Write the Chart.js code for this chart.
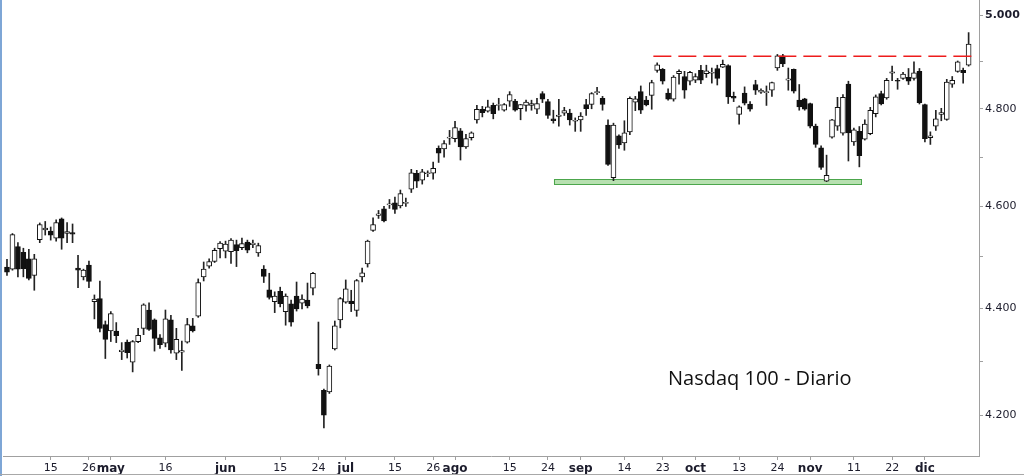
<!DOCTYPE html>
<html>
<head>
<meta charset="utf-8">
<script src="https://cdn.jsdelivr.net/npm/chart.js@4.4.0/dist/chart.umd.min.js"></script>
<style>
  html, body { margin: 0; padding: 0; background: #fff; }
  canvas { display: block; }
</style>
</head>
<body>
<canvas id="myChart" width="1024" height="476"></canvas>
<script>
// Nasdaq 100 daily candles, 5 abr - 13 dic (one entry per session)
const opens = [
  4480,4476,4520,4509,4496,4464,4534,4553,4551,4537,
  4575,4546,4548,4478,4461,4484,4413,4419,4369,4357,
  4357,4318,4336,4298,4337,4362,4397,4378,4344,4334,
  4378,4315,4317,4336,4367,4385,4461,4482,4491,4516,
  4511,4510,4524,4518,4529,4524,4508,4476,4436,4413,
  4433,4394,4409,4424,4410,4416,4439,4294,4246,4243,
  4323,4378,4412,4414,4396,4461,4486,4552,4582,4595,
  4603,4607,4601,4606,4635,4667,4653,4666,4667,4718,
  4717,4739,4738,4754,4721,4740,4777,4799,4795,4807,
  4807,4797,4816,4816,4800,4807,4807,4799,4832,4815,
  4779,4784,4791,4791,4774,4777,4809,4809,4834,4822,
  4766,4658,4744,4729,4752,4814,4836,4818,4828,4881,
  4883,4833,4820,4874,4868,4858,4860,4881,4874,4875,
  4885,4888,4891,4826,4788,4833,4810,4851,4835,4834,
  4839,4886,4912,4860,4883,4818,4821,4811,4764,4719,
  4651,4741,4764,4749,4852,4731,4753,4737,4748,4790,
  4832,4823,4875,4860,4864,4866,4864,4879,4809,4740,
  4764,4788,4778,4852,4879,4881,4892
]
const highs = [
  4495,4546,4528,4517,4515,4505,4567,4570,4559,4573,
  4577,4568,4565,4503,4476,4492,4426,4453,4376,4394,
  4373,4335,4340,4339,4362,4409,4411,4380,4350,4397,
  4387,4362,4338,4381,4381,4457,4490,4496,4517,4530,
  4531,4536,4533,4537,4533,4533,4527,4483,4468,4432,
  4441,4428,4416,4451,4426,4449,4470,4374,4248,4293,
  4376,4421,4455,4435,4456,4478,4533,4577,4592,4600,
  4614,4619,4633,4617,4675,4673,4675,4672,4690,4723,
  4734,4755,4774,4759,4747,4752,4807,4805,4818,4812,
  4822,4811,4836,4820,4809,4818,4818,4822,4836,4820,
  4797,4820,4803,4799,4781,4792,4820,4834,4845,4826,
  4777,4770,4746,4775,4825,4826,4848,4826,4860,4897,
  4885,4842,4870,4882,4879,4879,4874,4892,4892,4886,
  4892,4903,4893,4835,4806,4846,4815,4860,4842,4848,
  4856,4915,4915,4886,4884,4851,4822,4812,4768,4723,
  4704,4778,4824,4830,4858,4760,4763,4777,4803,4829,
  4837,4864,4890,4864,4877,4885,4899,4885,4810,4752,
  4797,4801,4862,4868,4901,4886,4962
]
const lows = [
  4464,4474,4461,4461,4455,4435,4528,4543,4533,4531,
  4515,4528,4528,4440,4455,4440,4380,4355,4305,4337,
  4335,4303,4306,4280,4335,4350,4358,4319,4324,4327,
  4315,4303,4283,4334,4355,4383,4453,4478,4489,4498,
  4498,4487,4481,4514,4508,4518,4501,4450,4418,4392,
  4403,4368,4366,4395,4399,4401,4426,4274,4177,4240,
  4321,4363,4410,4394,4385,4451,4480,4550,4576,4569,
  4596,4586,4597,4600,4628,4638,4645,4660,4655,4689,
  4700,4726,4731,4694,4718,4735,4770,4783,4793,4779,
  4797,4795,4805,4795,4777,4795,4797,4790,4813,4780,
  4770,4764,4786,4766,4753,4753,4786,4800,4830,4797,
  4683,4652,4718,4714,4746,4796,4790,4806,4799,4877,
  4852,4818,4816,4852,4822,4850,4855,4853,4866,4854,
  4850,4887,4811,4815,4768,4808,4795,4830,4832,4807,
  4826,4881,4889,4839,4833,4797,4797,4760,4720,4675,
  4650,4739,4755,4745,4692,4724,4680,4735,4746,4783,
  4808,4820,4859,4841,4862,4851,4860,4810,4731,4726,
  4755,4775,4776,4845,4877,4854,4890
]
const closes = [
  4470,4544,4476,4477,4458,4496,4564,4557,4543,4568,
  4537,4550,4545,4474,4474,4452,4418,4362,4341,4390,
  4348,4321,4316,4337,4349,4407,4360,4343,4331,4380,
  4321,4341,4320,4369,4357,4450,4476,4491,4513,4527,
  4525,4533,4512,4526,4513,4527,4522,4462,4421,4424,
  4409,4424,4374,4399,4418,4405,4468,4286,4200,4291,
  4367,4419,4438,4409,4454,4469,4531,4564,4585,4571,
  4605,4594,4626,4608,4668,4651,4670,4668,4677,4708,
  4728,4741,4761,4721,4738,4750,4799,4792,4804,4790,
  4809,4809,4830,4797,4809,4814,4811,4811,4820,4786,
  4775,4787,4796,4777,4776,4785,4800,4832,4836,4809,
  4685,4766,4725,4750,4822,4821,4797,4808,4855,4893,
  4858,4820,4867,4879,4839,4877,4868,4860,4880,4877,
  4864,4894,4825,4822,4804,4812,4799,4839,4839,4836,
  4855,4912,4895,4863,4837,4804,4799,4764,4726,4679,
  4663,4777,4803,4824,4750,4756,4703,4768,4797,4825,
  4810,4860,4878,4858,4873,4858,4876,4813,4738,4744,
  4779,4792,4856,4860,4899,4876,4937
]

// x axis labels (session index -> text)
const tickPos = [8, 15, 19, 29, 40, 50, 57, 62, 71, 78, 82, 92, 99, 105, 113, 120, 126, 134, 141, 147, 155, 162, 168]
const tickText = ['15','26','may','16','jun','15','24','jul','15','26','ago','15','24','sep','14','23','oct','13','24','nov','11','22','dic']
const months = ['may','jun','jul','ago','sep','oct','nov','dic']

// price axis
const yTicks = [4200, 4300, 4400, 4500, 4600, 4700, 4800, 4900, 5000]

// resistance (dashed red) and support zone (green)
const resistance = [4911, 4911]
const resistanceX = [118.3, 177.7]
const supportZone = [4645, 4655]
const supportX = [100.1, 156.3]

const bodies = opens.map((o, i) => ({ x: i, y: [o, closes[i]] }))
const wicks = lows.map((l, i) => ({ x: i, y: [l, highs[i]] }))
const bodyColors = opens.map((o, i) => closes[i] >= o ? '#ffffff' : '#111111')

const fmt = v => String(v).replace(/\B(?=(\d{3})+$)/, '.')

const overlay = {
  id: 'overlay',
  beforeDatasetsDraw(chart) {
    const { ctx, scales: { x, y } } = chart
    const x1 = x.getPixelForValue(supportX[0])
    const x2 = x.getPixelForValue(supportX[1])
    const y1 = y.getPixelForValue(supportZone[1])
    const y2 = y.getPixelForValue(supportZone[0])
    ctx.save()
    ctx.fillStyle = '#b7e0b0'
    ctx.fillRect(x1, y1, x2 - x1, y2 - y1)
    ctx.strokeStyle = '#4ca64c'
    ctx.lineWidth = 1
    ctx.strokeRect(Math.round(x1) + 0.5, Math.round(y1) + 0.5, Math.round(x2 - x1), Math.round(y2 - y1))
    ctx.restore()
  },
  afterDraw(chart) {
    const { ctx } = chart
    ctx.save()
    ctx.fillStyle = '#111'
    ctx.font = '20px "Open Sans"'
    ctx.textBaseline = 'alphabetic'
    ctx.fillText('Nasdaq 100 - Diario', 668, 385)
    // window frame
    ctx.fillStyle = '#7ea6d6'
    ctx.fillRect(0, 0, 2, 476)
    ctx.fillStyle = '#a8a8a8'
    ctx.fillRect(0, 474, 1024, 1)
    ctx.restore()
  }
}

const ctx = document.getElementById('myChart').getContext('2d')

const config = {
  type: 'bar',
  data: {
    datasets: [
      {
        type: 'line',
        data: resistanceX.map((x, i) => ({ x, y: resistance[i] })),
        borderColor: '#ee1c1c',
        borderWidth: 1.5,
        borderDash: [18, 7],
        pointRadius: 0,
        fill: false,
        order: 0,
      },
      {
        data: bodies,
        backgroundColor: bodyColors,
        borderColor: '#111',
        borderWidth: 1,
        borderSkipped: false,
        barThickness: 5,
        grouped: false,
        order: 1,
      },
      {
        data: wicks,
        backgroundColor: '#222',
        borderWidth: 0,
        barThickness: 1,
        grouped: false,
        order: 2,
      },
    ],
  },
  options: {
    responsive: false,
    devicePixelRatio: 1,
    animation: false,
    layout: { padding: { left: 3, top: 0, right: 0, bottom: 0 } },
    plugins: {
      legend: { display: false },
      tooltip: { enabled: false },
    },
    scales: {
      x: {
        type: 'linear',
        min: -0.73,
        max: 177.9,
        offset: false,
        afterBuildTicks: s => { s.ticks = tickPos.map(v => ({ value: v })) },
        afterFit: s => { s.height = 20; s.paddingLeft = 0; s.paddingRight = 0 },
        grid: { drawOnChartArea: false, offset: false, tickLength: 4, color: '#a0a0a0' },
        border: { display: true, color: '#a0a0a0' },
        ticks: {
          autoSkip: false,
          maxRotation: 0,
          padding: 2,
          color: '#1c1c2c',
          callback: (v, i) => tickText[i],
          font: c => {
            const m = months.includes(tickText[c.index])
            return { family: 'DejaVu Sans', size: m ? 12 : 11, weight: m ? 'bold' : 'normal' }
          },
        },
      },
      y: {
        type: 'logarithmic',
        position: 'right',
        min: 4126,
        max: 5033,
        afterBuildTicks: s => { s.ticks = yTicks.map(v => ({ value: v })) },
        afterFit: s => { s.width = 45; s.paddingTop = 0; s.paddingBottom = 0 },
        grid: { drawOnChartArea: false, tickLength: 4, color: '#a0a0a0' },
        border: { display: true, color: '#a0a0a0' },
        ticks: {
          padding: 2,
          color: '#1c1c2c',
          callback: v => (v % 200 === 0 ? fmt(v) : ''),
          font: c => ({ family: 'DejaVu Sans', size: 11, weight: c.tick && c.tick.value === 5000 ? 'bold' : 'normal' }),
        },
      },
    },
  },
  plugins: [overlay],
}

const myChart = new Chart(ctx, config)
</script>
</body>
</html>
